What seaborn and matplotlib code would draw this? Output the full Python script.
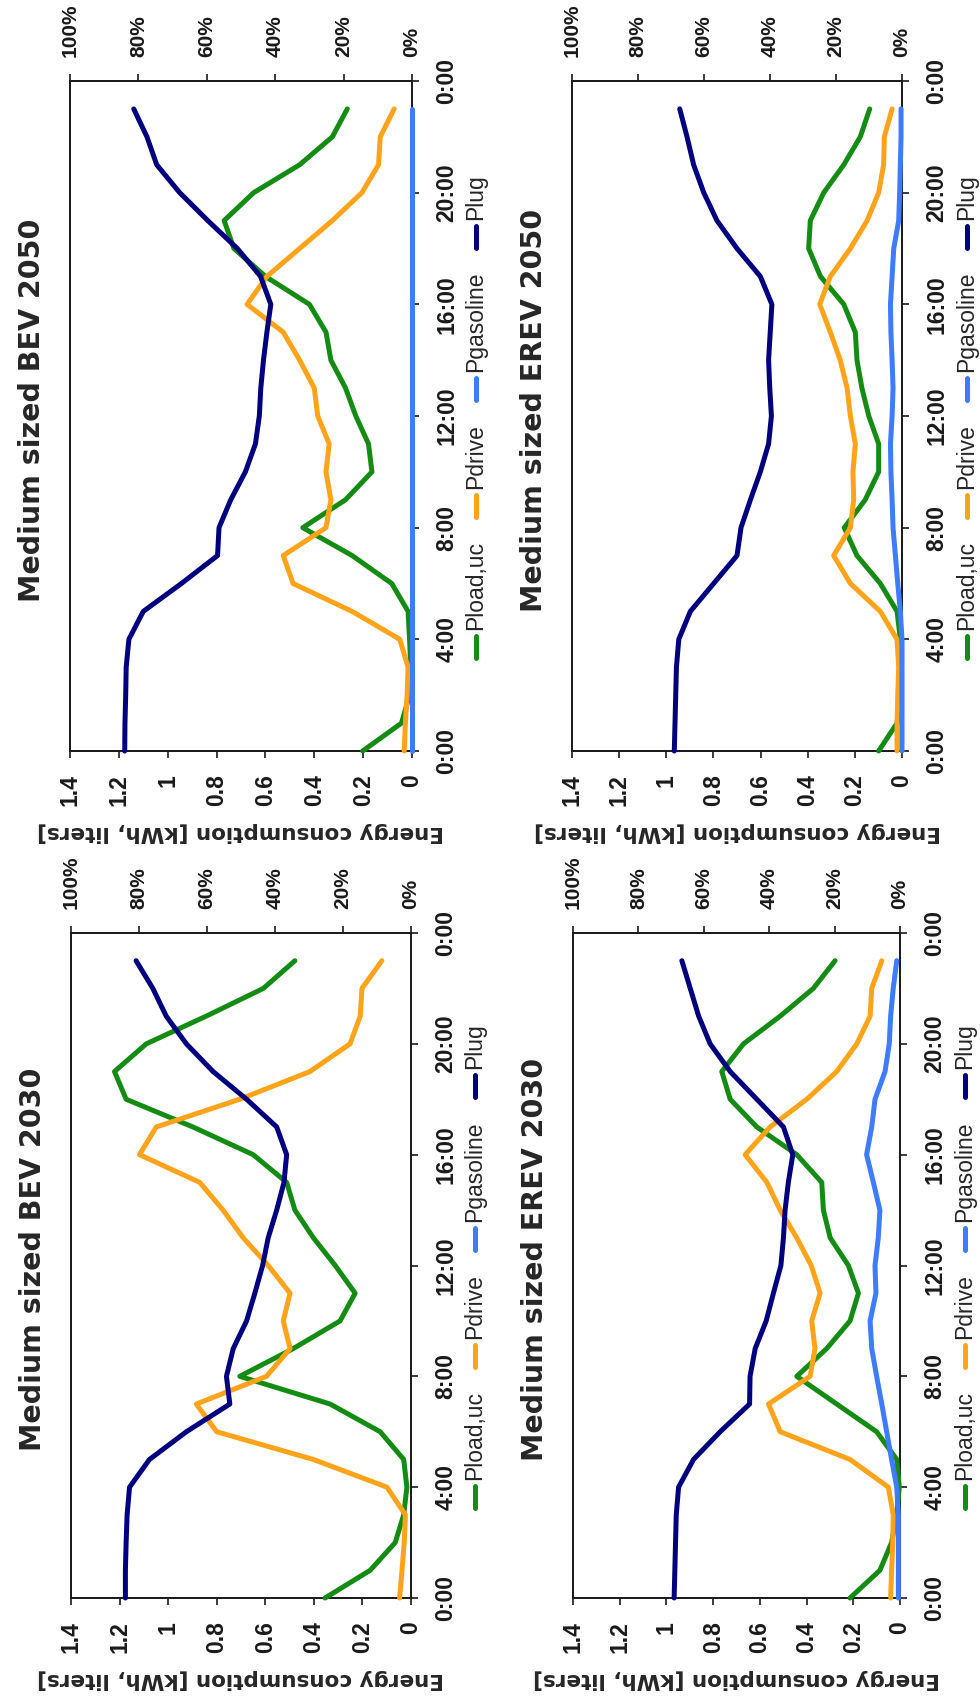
import numpy as np
import pandas as pd
import matplotlib
matplotlib.use("Agg")
import matplotlib.pyplot as plt
import seaborn as sns
from matplotlib.lines import Line2D

# hourly values (hour 0 .. 23)
hours = list(range(24))

series_names = ["Pload,uc", "Pdrive", "Pgasoline", "Plug"]
series_colors = ["#148c14", "#ffa31a", "#3d7bff", "#00007f"]

# Medium sized BEV 2030
bev2030_load = [0.354, 0.168, 0.065, 0.030, 0.017, 0.030, 0.127, 0.333, 0.705, 0.485, 0.292, 0.230,
                0.312, 0.402, 0.478, 0.512, 0.650, 0.898, 1.173, 1.221, 1.090, 0.843, 0.608, 0.478]
bev2030_drive = [0.047, 0.037, 0.028, 0.023, 0.099, 0.402, 0.800, 0.884, 0.595, 0.498, 0.526, 0.498,
                 0.588, 0.691, 0.774, 0.870, 1.118, 1.049, 0.705, 0.416, 0.251, 0.209, 0.202, 0.120]
bev2030_gasoline = [np.nan] * 24  # not drawn in this panel
bev2030_plug = [1.176, 1.176, 1.173, 1.169, 1.159, 1.077, 0.925, 0.746, 0.760, 0.732, 0.677, 0.643,
                0.611, 0.588, 0.553, 0.523, 0.512, 0.553, 0.677, 0.815, 0.925, 1.008, 1.063, 1.132]

# Medium sized BEV 2050
bev2050_load = [0.202, 0.043, 0.010, 0.005, 0.010, 0.016, 0.083, 0.245, 0.447, 0.272, 0.164, 0.178,
                0.230, 0.272, 0.332, 0.352, 0.420, 0.600, 0.729, 0.769, 0.648, 0.460, 0.326, 0.265]
bev2050_drive = [0.032, 0.027, 0.020, 0.016, 0.050, 0.245, 0.487, 0.527, 0.352, 0.332, 0.352, 0.339,
                 0.386, 0.400, 0.460, 0.527, 0.675, 0.594, 0.460, 0.326, 0.205, 0.137, 0.130, 0.073]
bev2050_gasoline = [0, 0, 0, 0, 0, 0, 0, 0, 0, 0, 0, 0,
                    0, 0, 0, 0, 0, 0, 0, 0, 0, 0, 0, 0]
bev2050_plug = [1.176, 1.175, 1.172, 1.170, 1.159, 1.100, 0.944, 0.796, 0.790, 0.742, 0.682, 0.641,
                0.625, 0.619, 0.608, 0.594, 0.578, 0.620, 0.715, 0.836, 0.951, 1.045, 1.085, 1.139]

# Medium sized EREV 2030
erev2030_load = [0.214, 0.086, 0.036, 0.014, 0.003, 0.014, 0.100, 0.271, 0.442, 0.314, 0.214, 0.178,
                 0.221, 0.299, 0.328, 0.335, 0.442, 0.613, 0.727, 0.763, 0.670, 0.513, 0.371, 0.278]
erev2030_drive = [0.040, 0.036, 0.031, 0.029, 0.050, 0.214, 0.513, 0.563, 0.385, 0.364, 0.378, 0.342,
                  0.380, 0.442, 0.513, 0.570, 0.663, 0.556, 0.399, 0.271, 0.185, 0.128, 0.121, 0.078]
erev2030_gasoline = [0.007, 0.007, 0.007, 0.007, 0.014, 0.036, 0.057, 0.078, 0.100, 0.121, 0.128, 0.103,
                     0.107, 0.093, 0.086, 0.114, 0.143, 0.121, 0.107, 0.064, 0.046, 0.040, 0.029, 0.014]
erev2030_plug = [0.967, 0.964, 0.961, 0.958, 0.948, 0.884, 0.770, 0.644, 0.642, 0.620, 0.573, 0.542,
                 0.510, 0.499, 0.492, 0.478, 0.459, 0.499, 0.613, 0.727, 0.813, 0.862, 0.898, 0.934]

# Medium sized EREV 2050
erev2050_load = [0.099, 0.021, 0.007, 0.004, 0.007, 0.021, 0.092, 0.191, 0.245, 0.156, 0.099, 0.099,
                 0.141, 0.170, 0.191, 0.198, 0.247, 0.346, 0.396, 0.389, 0.332, 0.247, 0.177, 0.137]
erev2050_drive = [0.021, 0.021, 0.018, 0.014, 0.021, 0.092, 0.219, 0.290, 0.219, 0.205, 0.208, 0.198,
                  0.219, 0.233, 0.262, 0.304, 0.349, 0.304, 0.219, 0.148, 0.099, 0.078, 0.075, 0.042]
erev2050_gasoline = [0, 0, 0, 0, 0, 0.007, 0.018, 0.028, 0.038, 0.042, 0.047, 0.049,
                     0.042, 0.038, 0.042, 0.047, 0.049, 0.042, 0.035, 0.014, 0.010, 0.007, 0.004, 0.004]
erev2050_plug = [0.966, 0.963, 0.960, 0.957, 0.947, 0.898, 0.799, 0.700, 0.683, 0.643, 0.601, 0.566,
                 0.554, 0.561, 0.566, 0.559, 0.552, 0.601, 0.700, 0.785, 0.841, 0.884, 0.912, 0.943]

time_ticks = [0, 4, 8, 12, 16, 20, 24]
time_labels = ["0:00", "4:00", "8:00", "12:00", "16:00", "20:00", "0:00"]
energy_ticks = [0, 0.2, 0.4, 0.6, 0.8, 1.0, 1.2, 1.4]
energy_labels = ["0", "0.2", "0.4", "0.6", "0.8", "1", "1.2", "1.4"]
pct_ticks = [0, 20, 40, 60, 80, 100]
pct_labels = ["0%", "20%", "40%", "60%", "80%", "100%"]

sns.set_theme(style="white")
plt.rcParams["font.family"] = ["Liberation Sans", "DejaVu Sans"]

W, H = 980, 1700
fig = plt.figure(figsize=(W / 100, H / 100), dpi=100)
renderer = fig.canvas.get_renderer()

# panel layout in pixels: (plot left, plot right, plot top, plot bottom)
panels = [
    ("BEV 2050", [bev2050_load, bev2050_drive, bev2050_gasoline, bev2050_plug], (70, 412, 81, 751)),
    ("EREV 2050", [erev2050_load, erev2050_drive, erev2050_gasoline, erev2050_plug], (572, 902, 81, 751)),
    ("BEV 2030", [bev2030_load, bev2030_drive, bev2030_gasoline, bev2030_plug], (71, 411, 933, 1598)),
    ("EREV 2030", [erev2030_load, erev2030_drive, erev2030_gasoline, erev2030_plug], (573, 900, 933, 1598)),
]

narrow_bold = dict(family=["Liberation Sans Narrow", "Liberation Sans"], weight="bold")


def draw_legend(ax_box, x_px):
    # legend drawn sideways like the rotated original
    yc = 1 - (ax_box[2] + ax_box[3]) / 2 / H
    xf = x_px / W
    key_len, gap_key, gap_entry = 22 / H, 6 / H, 24 / H
    texts = [fig.text(xf, 0, n, rotation=90, ha="center", va="bottom", fontsize=16.5,
                      family=["Liberation Sans", "DejaVu Sans"]) for n in series_names]
    lengths = [t.get_window_extent(renderer).height / H for t in texts]
    total = sum(key_len + gap_key + L for L in lengths) + gap_entry * (len(texts) - 1)
    y = yc - total / 2
    for color, t, L in zip(series_colors, texts, lengths):
        fig.add_artist(Line2D([xf, xf], [y, y + key_len], color=color, lw=3.6,
                              transform=fig.transFigure))
        y += key_len + gap_key
        t.set_y(y)
        y += L + gap_entry


for name, values, (l, r, t, b) in panels:
    ax = fig.add_axes([l / W, 1 - b / H, (r - l) / W, (b - t) / H])
    df = pd.DataFrame({
        "hour": hours * len(series_names),
        "value": np.concatenate(values),
        "series": np.repeat(series_names, len(hours)),
    }).dropna()
    sns.lineplot(data=df, x="value", y="hour", hue="series", hue_order=series_names,
                 palette=series_colors, orient="y", estimator=None, linewidth=3.6,
                 legend=False, ax=ax, solid_capstyle="round", solid_joinstyle="round",
                 zorder=3, clip_on=False)

    ax.set_xlim(1.4, 0)
    ax.set_ylim(0, 24)
    ax.set_xlabel("")
    ax.set_ylabel("")
    for s in ax.spines.values():
        s.set_color("#1a1a1a")
        s.set_linewidth(1.3)

    ax.set_xticks(energy_ticks)
    ax.set_xticklabels(energy_labels, rotation=90, fontsize=16.5, fontweight="bold")
    ax.tick_params(axis="x", bottom=True, direction="out", length=5, width=1.2,
                   pad=12, colors="#1a1a1a")

    ax.yaxis.tick_right()
    ax.set_yticks(time_ticks)
    ax.set_yticklabels(time_labels, rotation=90, va="center", fontsize=16.5, **narrow_bold)
    ax.tick_params(axis="y", right=True, left=False, direction="out", length=5, width=1.2,
                   pad=12, colors="#1a1a1a")

    ax2 = ax.twiny()
    ax2.set_xlim(100, 0)
    ax2.set_xticks(pct_ticks)
    ax2.set_xticklabels(pct_labels, rotation=90, fontsize=15, **narrow_bold)
    ax2.tick_params(axis="x", top=True, direction="out", length=5, width=1.2,
                    pad=12, colors="#1a1a1a")
    ax2.grid(False)
    ax.grid(False)
    # keep the curves above the frame so the zero line stays visible
    ax2.set_zorder(ax.get_zorder() - 1)
    ax.patch.set_visible(False)

    # title on the left, axis label below (whole chart is turned on its side)
    fig.text((l - 38) / W, 1 - ((t + b) / 2 - 6) / H, "Medium sized " + name, rotation=90,
             ha="center", va="center", fontsize=20.5, fontweight="bold",
             family=["DejaVu Sans"])
    fig.text((l + r) / 2 / W, 1 - (b + 81) / H, "Energy consumption [kWh, liters]",
             rotation=180, ha="center", va="center", fontsize=15.5, fontweight="bold",
             family=["DejaVu Sans"])
    draw_legend((l, r, t, b), r + 64 if l < 500 else r + 65)

fig.savefig("out.png", dpi=100, facecolor="white")
